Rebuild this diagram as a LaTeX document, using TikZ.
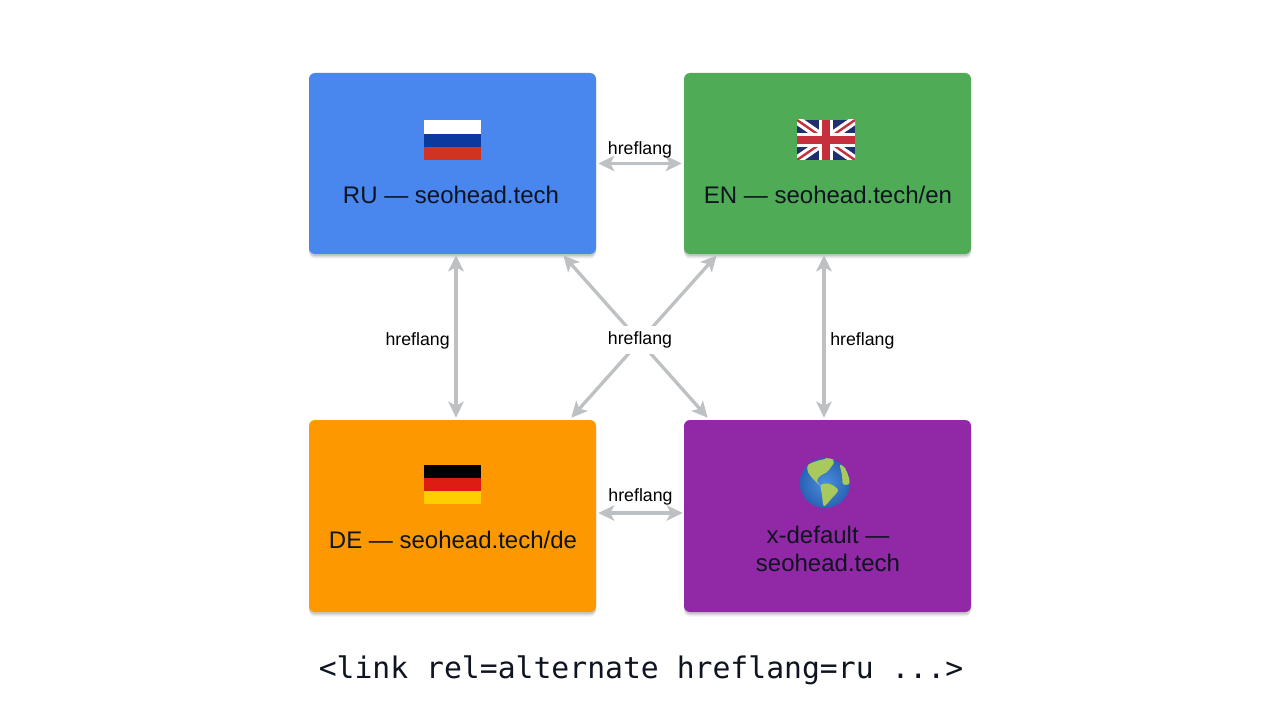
\documentclass[tikz,border=0pt]{standalone}
\usepackage{fontspec}
\setmainfont{Liberation Sans}
\setmonofont{DejaVu Sans Mono}
\usepackage{tikz}
\usetikzlibrary{arrows.meta}
\usetikzlibrary{shadows}

\definecolor{rublue}{HTML}{4986EE}
\definecolor{engreen}{HTML}{50AB57}
\definecolor{deorange}{HTML}{FE9800}
\definecolor{xdpurple}{HTML}{9128A5}
\definecolor{linkgray}{HTML}{BEC1C3}
\definecolor{inkdark}{HTML}{0E1420}
\definecolor{flagblue}{HTML}{0B3A9E}
\definecolor{flagred}{HTML}{CF3423}
\definecolor{ukblue}{HTML}{1F2F70}
\definecolor{ukred}{HTML}{C62F3C}
\definecolor{degold}{HTML}{FFCE00}
\definecolor{dered}{HTML}{DD1C12}
\definecolor{globegreen}{HTML}{A9C95E}
\definecolor{globeblue}{HTML}{4A90DC}
\definecolor{globedeep}{HTML}{2A62B4}

\tikzset{
    softshadow/.style={
        general shadow={shadow yshift=-3.5pt,fill=black,opacity=.05,rounded corners=5pt},
        general shadow={shadow yshift=-2.5pt,fill=black,opacity=.08,rounded corners=5pt},
        general shadow={shadow yshift=-1.5pt,fill=black,opacity=.10,rounded corners=5pt}},
    sitebox/.style={rectangle,rounded corners=4.5pt,minimum width=215.25pt,softshadow},
    sitelabel/.style={text=inkdark,font=\fontsize{18}{21}\selectfont,align=center}
}

\begin{document}
\begin{tikzpicture}[x=0.75pt,y=-0.75pt]
        \fill[white] (0,0) rectangle (1280,720);
        \useasboundingbox (0,0) rectangle (1280,720);

        \begin{scope}[every node/.style={sitebox}]
            \node[fill=rublue,minimum height=135.75pt] (ru) at (452.5,163.5) {};
            \node[fill=engreen,minimum height=135.75pt] (en) at (827.5,163.5) {};
            \node[fill=deorange,minimum height=144pt] (de) at (452.5,516) {};
            \node[fill=xdpurple,minimum height=144pt] (xd) at (827.5,516) {};
        \end{scope}

        % flags
        \fill[white] (424,120) rectangle (481,134);
        \fill[flagblue] (424,134) rectangle (481,147);
        \fill[flagred] (424,147) rectangle (481,160);

        \begin{scope}
            \clip (797,120) rectangle (855,160);
            \fill[ukblue] (797,120) rectangle (855,160);
            \draw[white,line width=6.5pt] (797,120) -- (855,160) (797,160) -- (855,120);
            \draw[ukred,line width=1.8pt] (797,120) -- (855,160) (797,160) -- (855,120);
            \draw[white,line width=10pt] (826,120) -- (826,160) (797,140) -- (855,140);
            \draw[ukred,line width=5.5pt] (826,120) -- (826,160) (797,140) -- (855,140);
        \end{scope}

        \fill[black] (424,465) rectangle (481,478);
        \fill[dered] (424,478) rectangle (481,491);
        \fill[degold] (424,491) rectangle (481,504);

        % globe
        \begin{scope}
            \clip (825,483) circle [radius=25];
            \shade[inner color=globeblue,outer color=globedeep] (825,483) circle [radius=25];
            \fill[globegreen] plot[smooth cycle] coordinates {(808,465) (817,461) (827,459) (834,462) (831,467) (827,472) (820,476) (817,481) (822,487) (814,480) (808,472)};
            \fill[globegreen] plot[smooth cycle] coordinates {(821,485) (830,484) (838,490) (832,498) (824,506) (822,495)};
            \fill[globegreen] plot[smooth cycle] coordinates {(840,465) (845,468) (849,478) (849,484) (843,484) (842,475)};
            \fill[globegreen] plot[smooth cycle] coordinates {(825,458) (835,457) (832,461)};
        \end{scope}

        \begin{scope}[every node/.style={sitelabel}]
            \node (rutext) at (451,195) {RU — seohead.tech};
            \node (entext) at (828,195) {EN — seohead.tech/en};
            \node (detext) at (453,540) {DE — seohead.tech/de};
            \node (xdtext) at (828,549) {x-default —\\seohead.tech};
        \end{scope}

        \begin{scope}[every node/.style={fill=white,inner sep=0pt,minimum height=21pt,font=\fontsize{13.3}{16}\selectfont},
            every edge/.style={draw=linkgray,line width=2.5pt,{Stealth[length=12pt,width=11.5pt,inset=3pt]}-{Stealth[length=12pt,width=11.5pt,inset=3pt]}}]
            \path ([shift={(2,0)}]ru.east) edge node[fill=none,above=-1.5pt] {hreflang} ([shift={(-2,0)}]en.west);
            \path ([shift={(2,-3)}]de.east) edge node[fill=none,above=.25pt] {hreflang} ([shift={(-1,-3)}]xd.west);
            \path ([shift={(3.5,1)}]ru.south) edge node[fill=none,left=3.5pt,yshift=-3pt] {hreflang} ([shift={(3.5,-2)}]de.north);
            \path ([shift={(-3.5,1)}]en.south) edge node[fill=none,right=3.5pt,yshift=-3pt] {hreflang} ([shift={(-3.5,-2)}]xd.north);
            \path ([shift={(-33,1)}]ru.south east) edge ([shift={(24,-2)}]xd.north west);
            \path ([shift={(33,1)}]en.south west) edge node[pos=.5,minimum width=49pt,xshift=-3pt,yshift=-2.8pt] {hreflang} ([shift={(-25,-2)}]de.north east);
        \end{scope}

        \node[inkdark,font=\ttfamily\fontsize{22.3}{26}\selectfont] (code) at (641,670.5) {<link rel=alternate hreflang=ru ...>};
    \end{tikzpicture}
\end{document}
